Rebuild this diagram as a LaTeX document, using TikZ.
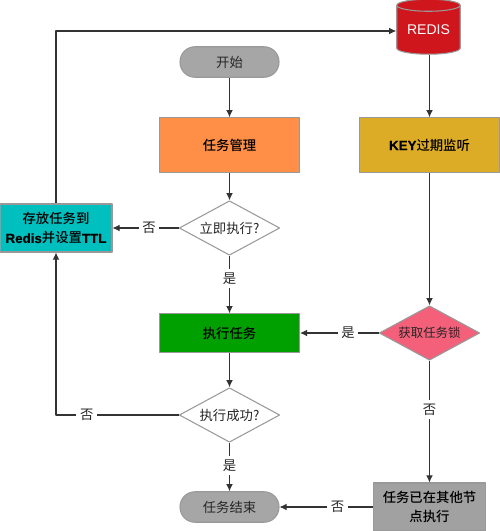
\documentclass[tikz,border=0pt]{standalone}
\usepackage{fontspec}
\setmainfont{Liberation Sans}
\newfontfamily\cjk{Noto Sans CJK SC}[BoldFont={Noto Sans CJK SC Medium}]
\newfontfamily\latinmid{Liberation Sans}[FakeBold=0.3]
\usetikzlibrary{arrows.meta,shapes.geometric}
\tikzset{
	base/.style={draw=black!40,line width=0.6pt,inner sep=0pt,align=center,text=black!85,font=\fontsize{7.6}{11.3}\selectfont\cjk},
	pill/.style={base,rectangle,rounded corners=8.5pt,minimum width=1.98cm,minimum height=0.61cm,fill=black!35},
	taskbox/.style={base,rectangle,minimum width=2.8cm,font=\fontsize{7.6}{11.3}\selectfont\cjk\bfseries,text=black},
	choice/.style={base,diamond,aspect=1.85,minimum width=2.01cm,minimum height=1.09cm},
	lbl/.style={fill=white,inner sep=2pt,text=black!85,font=\fontsize{7.6}{9}\selectfont\cjk},
	flow/.style={draw=black!80,line width=0.6pt,->}
}
\begin{document}
\begin{tikzpicture}[x=0.02cm,y=-0.02cm,>={Latex[length=4pt,width=3.8pt]},line join=round]
	\useasboundingbox (0,0) rectangle (500,531);
	% left column
	\node[taskbox,fill={rgb,255:red,0;green,191;blue,191},minimum width=2.24cm,minimum height=0.96cm] (store) at (56,228) {存放任务到\\{\latinmid Redis}并设置{\latinmid TTL}};
	% middle column
	\node[pill] (start) at (229.5,62) {开始};
	\node[taskbox,fill={rgb,255:red,255;green,143;blue,71},minimum height=1.09cm] (manage) at (229.5,145) {任务管理};
	\node[choice] (now) at (229.5,228) {立即执行?};
	\node[taskbox,fill={rgb,255:red,0;green,160;blue,0},minimum height=0.77cm] (run) at (229.5,333) {执行任务};
	\node[choice] (done) at (229.5,415) {执行成功?};
	\node[pill] (finish) at (229.5,507) {任务结束};
	% right column
	\node[base,cylinder,shape border rotate=90,aspect=0.28,minimum width=1.27cm,minimum height=1.1cm,fill={rgb,255:red,208;green,22;blue,29},text=white,font=\fontsize{8}{10}\selectfont] (redis) at (428.5,30) {REDIS};
	\node[taskbox,fill={rgb,255:red,220;green,172;blue,38},minimum height=1.09cm] (key) at (429.5,145) {{\latinmid KEY}过期监听};
	\node[choice,fill={rgb,255:red,244;green,96;blue,122},font=\fontsize{7.1}{9}\selectfont\cjk] (lock) at (429.5,333) {获取任务锁};
	\node[taskbox,fill=black!37,minimum width=2.24cm,minimum height=0.96cm] (other) at (429.5,507) {任务已在其他节\\点执行};
	\coordinate (back) at (56,415);
	% connectors
	\draw[flow] (start) -- (manage);
	\draw[flow] (manage) -- (now);
	\draw[flow] (now) -- node[lbl,pos=0.4]{是} (run);
	\draw[flow] (run) -- (done);
	\draw[flow] (done) -- node[lbl,pos=0.47]{是} (finish);
	\draw[flow] (now) -- node[lbl,pos=0.45]{否} (store);
	\draw[flow] (done) -- node[lbl,pos=0.75]{否} (back) -- (store);
	\draw[flow] (store) |- ([yshift=-0.02cm]redis.west);
	\draw[flow] (key |- redis.south) -- (key);
	\draw[flow] (key) -- (lock);
	\draw[flow] (lock) -- node[lbl,pos=0.39]{是} (run);
	\draw[flow] (lock) -- node[lbl,pos=0.4]{否} (other);
	\draw[flow] (other) -- node[lbl,pos=0.38]{否} (finish);
\end{tikzpicture}
\end{document}
